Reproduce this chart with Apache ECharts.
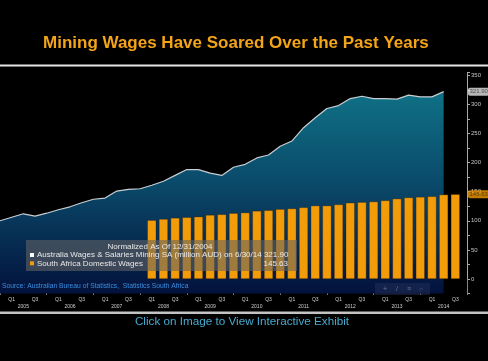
<!DOCTYPE html>
<html>
<head>
<meta charset="utf-8">
<script src="https://cdn.jsdelivr.net/npm/echarts@6/dist/echarts.min.js"></script>
<style>
html,body{margin:0;padding:0;background:#000;}
#main{width:488px;height:361px;}
</style>
</head>
<body>
<div id="main"></div>
<script>
const titleText = 'Mining Wages Have Soared Over the Past Years';
const noteText = 'Normalized As Of 12/31/2004';
const lineName = 'Australia Wages & Salaries Mining SA (million AUD) on 6/30/14';
const barName = 'South Africa Domestic Wages';
const sourceText = 'Source: Australian Bureau of Statistics,  Statistics South Africa';
const clickText = 'Click on Image to View Interactive Exhibit';

const yearLabels = ['2005','2006','2007','2008','2009','2010','2011','2012','2013','2014'];
const quarterLabels = ['Q1','Q2','Q3','Q4'];

// quarter-end categories: index 0 = 12/31/2004, 1 = 3/31/2005 (2005 Q1), ...
const categories = ['2004 Q4'];
yearLabels.forEach(y => quarterLabels.forEach(q => categories.push(y + ' ' + q)));

const lineStartIdx = 0;  // 12/31/2004
const lineValues = [100,106,112,108,113,119,124,131,137,139,151,154,155,161,168,178,188,188,182,178,192,197,208,213,228,237,260,277,293,298,310,314,310,310,309,316,313,313,321.90];
const barStartIdx = 13;  // 3/31/2008
const barValues = [101,103,105,106,107,110,111,113,114,117,118,120,121,123,126,126,128,131,132,133,135,138,140,141,142,145,145.63];

const lineData = categories.map((c,i)=> (i>=lineStartIdx && i<lineStartIdx+lineValues.length) ? lineValues[i-lineStartIdx] : '-');
const barData = categories.map((c,i)=> (i>=barStartIdx && i<barStartIdx+barValues.length) ? barValues[i-barStartIdx] : '-');
const lastLine = lineValues[lineValues.length-1];
const lastBar = barValues[barValues.length-1];
const lastCat = categories[categories.length-1];

const FONT = 'Liberation Sans, Arial, sans-serif';
const chart = echarts.init(document.getElementById('main'));
chart.setOption({
  backgroundColor:'#000',
  animation:false,
  title:{text:titleText,left:43,top:34.5,padding:0,textStyle:{color:'#f4a417',fontSize:17,fontWeight:'bold',fontFamily:FONT}},
  grid:{left:0,right:21,top:72.4,bottom:67.5},
  xAxis:{type:'category',data:categories,boundaryGap:false,
    axisLine:{show:false},
    splitLine:{show:false},
    axisTick:{show:true,interval:(i)=>i%4===0,length:16,lineStyle:{color:'#858585',width:1}},
    axisLabel:{interval:(i)=>i%4!==0,fontSize:5,lineHeight:7.4,margin:2,color:'#cfcfcf',fontFamily:FONT,
      formatter:(v,i)=>{const parts=v.split(' '); const q=parts[1];
        if(q==='Q1'||q==='Q3') return q; if(q==='Q2') return '\n'+parts[0]; return '';}}
  },
  yAxis:{type:'value',position:'right',min:-25,max:355,interval:25,
    axisLine:{show:true,lineStyle:{color:'#a8a8a8',width:1}},
    axisTick:{show:true,length:3,lineStyle:{color:'#a8a8a8'}},
    axisLabel:{fontSize:6,color:'#c4c4c4',margin:4,fontFamily:FONT,
      formatter:(v)=> (v>=0 && v%50===0) ? String(v) : ''},
    splitLine:{show:false}
  },
  series:[
    {type:'line',name:lineName,data:lineData,symbol:'none',z:2,
      lineStyle:{color:'#c8cdd2',width:1.2},
      areaStyle:{origin:'start',opacity:1,color:{type:'linear',x:0,y:0,x2:0,y2:1,colorStops:[
        {offset:0,color:'#0f7185'},{offset:0.45,color:'#0a4a6a'},{offset:1,color:'#03123c'}]}}
    },
    {type:'bar',name:barName,data:barData,barWidth:9,z:3,
      itemStyle:{color:'#f39c0a',borderColor:'rgba(40,20,0,0.6)',borderWidth:0.5}},
    {type:'scatter',data:[[lastCat,lastLine]],symbolSize:0,clip:false,z:10,silent:true,
      label:{show:true,position:'right',distance:1,formatter:()=>lastLine.toFixed(2),fontSize:6,color:'#333',
        backgroundColor:'#e6e6e6',borderRadius:2,padding:[1,1.5],fontFamily:FONT}},
    {type:'scatter',data:[[lastCat,lastBar]],symbolSize:0,clip:false,z:10,silent:true,
      label:{show:true,position:'right',distance:1,formatter:()=>lastBar.toFixed(2),fontSize:6,color:'#3a2a00',
        backgroundColor:'#f39c0a',borderRadius:2,padding:[1,1.5],fontFamily:FONT}}
  ],
  graphic:[
    {type:'rect',shape:{x:0,y:64.5,width:488,height:2},style:{fill:'#e6e6e6'},z:50},
    {type:'rect',shape:{x:0,y:311.5,width:488,height:2.5},style:{fill:'#c4c4c4'},z:50},
    {type:'rect',shape:{x:26,y:240,width:271,height:31},style:{fill:'rgba(100,100,100,0.58)'},z:100},
    {type:'text',x:160,y:246.7,z:101,style:{text:noteText,fill:'#e8e8e8',fontSize:8,fontFamily:FONT,align:'center',verticalAlign:'middle'}},
    {type:'rect',shape:{x:30,y:253,width:4,height:4},style:{fill:'#ffffff'},z:101},
    {type:'text',x:37,y:255,z:101,style:{text:lineName+' '+lastLine.toFixed(2),fill:'#e8e8e8',fontSize:8,fontFamily:FONT,align:'left',verticalAlign:'middle'}},
    {type:'rect',shape:{x:30,y:261.3,width:4,height:4},style:{fill:'#f39c0a'},z:101},
    {type:'text',x:37,y:263.3,z:101,style:{text:barName,fill:'#e8e8e8',fontSize:8,fontFamily:FONT,align:'left',verticalAlign:'middle'}},
    {type:'text',x:288,y:263.3,z:101,style:{text:lastBar.toFixed(2),fill:'#e8e8e8',fontSize:8,fontFamily:FONT,align:'right',verticalAlign:'middle'}},
    {type:'text',x:2,y:285.7,z:101,style:{text:sourceText,fill:'#3a8ee0',fontSize:6.75,fontFamily:FONT,align:'left',verticalAlign:'middle'}},
    {type:'rect',shape:{x:375,y:283,width:55,height:12},style:{fill:'rgba(40,50,90,0.45)'},z:90},
    {type:'text',x:385,y:289,z:91,style:{text:'+',fill:'#6a7590',fontSize:7,fontFamily:FONT,align:'center',verticalAlign:'middle'}},
    {type:'text',x:397,y:289,z:91,style:{text:'/',fill:'#6a7590',fontSize:7,fontFamily:FONT,align:'center',verticalAlign:'middle'}},
    {type:'text',x:409,y:289,z:91,style:{text:'≡',fill:'#6a7590',fontSize:7,fontFamily:FONT,align:'center',verticalAlign:'middle'}},
    {type:'text',x:421,y:289,z:91,style:{text:'○',fill:'#6a7590',fontSize:6,fontFamily:FONT,align:'center',verticalAlign:'middle'}},
    {type:'text',x:242,y:321.5,z:101,style:{text:clickText,fill:'#47aad0',fontSize:11.7,fontFamily:FONT,align:'center',verticalAlign:'middle'}}
  ]
});
</script>
</body>
</html>
